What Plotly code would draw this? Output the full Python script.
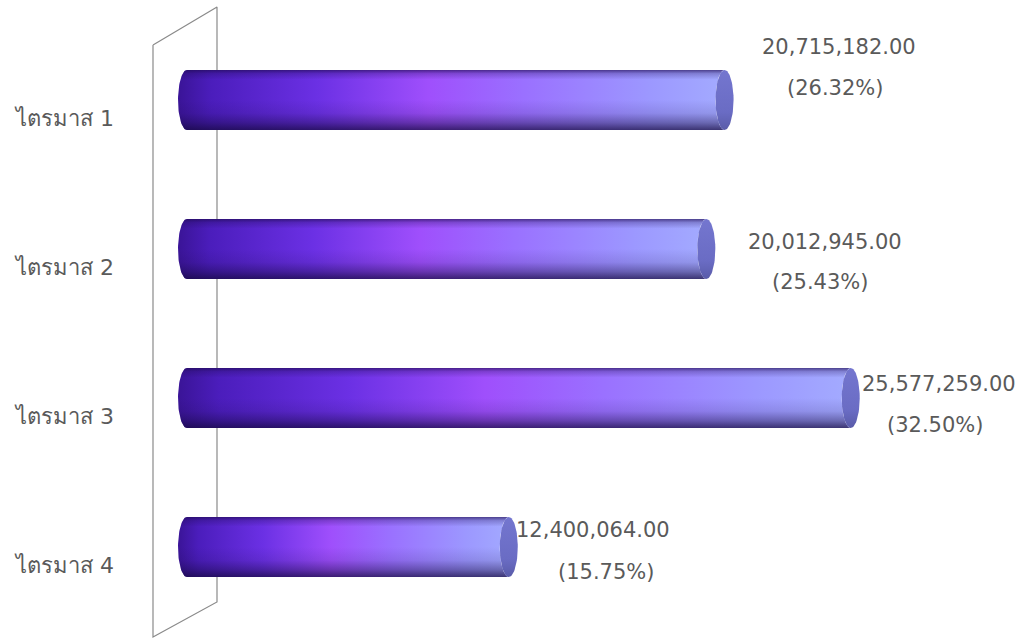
import numpy as np
import plotly.graph_objects as go

# ---- data -------------------------------------------------------------
quarters = ["ไตรมาส 1", "ไตรมาส 2", "ไตรมาส 3", "ไตรมาส 4"]
amounts = [20715182.00, 20012945.00, 25577259.00, 12400064.00]
shares = ["(26.32%)", "(25.43%)", "(32.50%)", "(15.75%)"]

# ---- geometry (pixels) --------------------------------------------------
W, H = 1019, 640
PLOT_L = 122
ZERO_PX = 187            # pixel column of value 0
PX_PER_UNIT = 25.95e-6   # pixels per baht
ROW0_PX, ROW_STEP = 100, 149

def px_to_x(px):
    return (px - ZERO_PX) / PX_PER_UNIT

def px_to_y(py):
    return (py - ROW0_PX) / ROW_STEP

CAP_A = 9 / PX_PER_UNIT      # ellipse half-width (x units)
CAP_B = 30 / ROW_STEP        # cylinder radius (y units)

# per-bar label offsets in pixels: (value dx, value dy, share dx, share dy)
label_offsets = [
    (114, 53, 110, 12),
    (119, 7, 114, -33),
    (88, 14, 84, -27),
    (84, 17, 97, -25),
]

TEXT = "#5a5a5a"
FONT = "DejaVu Sans, Verdana, Tahoma, sans-serif"

fig = go.Figure()

# back wall (parallelogram) drawn under the bars
wall_px = [(153, 45), (217, 7), (217, 602), (153, 637), (153, 45)]
fig.add_trace(go.Scatter(
    x=[px_to_x(p[0]) for p in wall_px],
    y=[px_to_y(p[1]) for p in wall_px],
    mode="lines", line=dict(color="#8a8a8a", width=1.2),
    hoverinfo="skip", showlegend=False))

t_left = np.linspace(np.pi / 2, 3 * np.pi / 2, 40)
t_right = np.linspace(-np.pi / 2, np.pi / 2, 40)
t_full = np.linspace(0, 2 * np.pi, 80)

body_scale = [
    [0.0, "#3a1497"],
    [0.06, "#4b1dbc"],
    [0.25, "#6b30e4"],
    [0.45, "#9f4ffc"],
    [0.62, "#9a70ff"],
    [0.85, "#9c98ff"],
    [1.0, "#a4adff"],
]
shade_scale = [
    [0.0, "rgba(30,10,80,0.65)"],
    [0.06, "rgba(30,10,80,0.25)"],
    [0.16, "rgba(30,10,80,0.0)"],
    [0.5, "rgba(30,10,80,0.0)"],
    [0.72, "rgba(25,10,70,0.12)"],
    [0.88, "rgba(20,8,60,0.40)"],
    [1.0, "rgba(20,8,60,0.72)"],
]

for i, (q, v) in enumerate(zip(quarters, amounts)):
    # cylinder outline: rounded back end at 0, front end at v
    xs = np.concatenate([CAP_A * np.cos(t_left), v + CAP_A * np.cos(t_right)[::-1] * -1])
    ys = np.concatenate([i - CAP_B * np.sin(t_left), i - CAP_B * np.sin(t_right)[::-1] * -1])
    xs = np.append(xs, xs[0])
    ys = np.append(ys, ys[0])

    fig.add_trace(go.Scatter(
        x=xs, y=ys, mode="lines", fill="toself",
        line=dict(width=0, color="rgba(0,0,0,0)"),
        fillgradient=dict(type="horizontal", colorscale=body_scale,
                          start=-CAP_A, stop=v + CAP_A),
        hoverinfo="skip", showlegend=False))
    fig.add_trace(go.Scatter(
        x=xs, y=ys, mode="lines", fill="toself",
        line=dict(width=0, color="rgba(0,0,0,0)"),
        fillgradient=dict(type="vertical", colorscale=shade_scale,
                          start=i - CAP_B, stop=i + CAP_B),
        hoverinfo="skip", showlegend=False))

    # front face of the cylinder
    fig.add_trace(go.Scatter(
        x=v + CAP_A * np.cos(t_full), y=i + CAP_B * np.sin(t_full),
        mode="lines", fill="toself",
        line=dict(width=0, color="rgba(0,0,0,0)"),
        fillgradient=dict(type="vertical",
                          colorscale=[[0, "#7476cf"], [0.7, "#6a6cc4"], [1, "#595ba8"]],
                          start=i - CAP_B, stop=i + CAP_B),
        hoverinfo="skip", showlegend=False))

    dxv, dyv, dxs, dys = label_offsets[i]
    fig.add_annotation(x=v, y=i, text=f"{v:,.2f}", showarrow=False,
                       xshift=dxv, yshift=dyv,
                       font=dict(family=FONT, size=21, color=TEXT))
    fig.add_annotation(x=v, y=i, text=shares[i], showarrow=False,
                       xshift=dxs, yshift=dys,
                       font=dict(family=FONT, size=21, color=TEXT))
    # category label
    fig.add_annotation(x=0, xref="paper", y=i, text=q, showarrow=False,
                       xanchor="right", xshift=-6, yshift=-18,
                       font=dict(family=FONT, size=22, color=TEXT))

fig.update_layout(
    width=W, height=H,
    margin=dict(l=PLOT_L, r=0, t=0, b=0),
    paper_bgcolor="white", plot_bgcolor="white",
    xaxis=dict(range=[px_to_x(PLOT_L), px_to_x(W)], visible=False, fixedrange=True),
    yaxis=dict(range=[px_to_y(H), px_to_y(0)], visible=False, fixedrange=True),
    showlegend=False,
)

fig.write_html("out.html")
